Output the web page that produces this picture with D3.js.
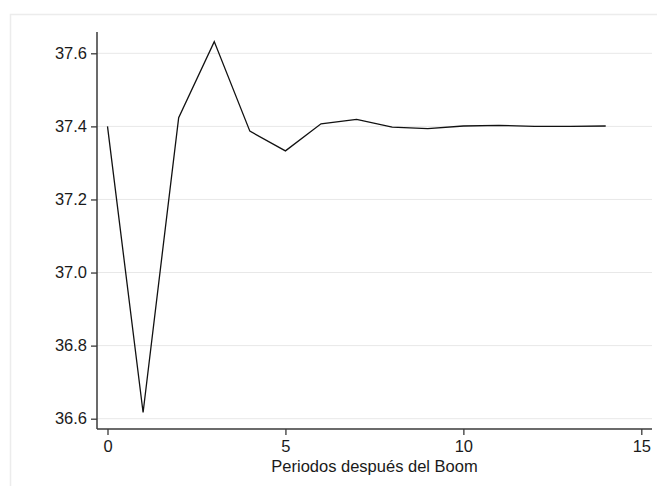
<!DOCTYPE html>
<html>
<head>
<meta charset="utf-8">
<script src="https://cdn.jsdelivr.net/npm/d3@7"></script>
<style>
  body { margin: 0; background: #fff; }
  svg { display: block; font-family: "Liberation Sans", Arial, sans-serif; }
</style>
</head>
<body>
<div id="chart"></div>
<script>
// data
const PERIODS = [0, 1, 2, 3, 4, 5, 6, 7, 8, 9, 10, 11, 12, 13, 14];
const VALUES = [37.400, 36.617, 37.424, 37.632, 37.387, 37.333, 37.407, 37.419,
                37.398, 37.394, 37.401, 37.403, 37.400, 37.400, 37.401];
const Y_TICKS = [36.6, 36.8, 37.0, 37.2, 37.4, 37.6];
const X_TICKS = [0, 5, 10, 15];
const X_TITLE = "Periodos después del Boom";

// frame
const FRAME_WIDTH = 657;
const FRAME_HEIGHT = 486;

const SVG = d3.select("#chart")
              .append("svg")
                .attr("width", FRAME_WIDTH)
                .attr("height", FRAME_HEIGHT);

// outer light border (runs off the right and bottom edges)
SVG.append("rect")
     .attr("x", 10.5)
     .attr("y", 14.5)
     .attr("width", 700)
     .attr("height", 600)
     .attr("fill", "none")
     .attr("stroke", "#ececec")
     .attr("stroke-width", 1.5);

// plot region
const PLOT = {left: 97, right: 652, top: 32, bottom: 429};

// scales
const X_SCALE = d3.scaleLinear()
                  .domain([0, 15])
                  .range([107.5, 641.3]);

const Y_SCALE = d3.scaleLinear()
                  .domain([36.6, 37.6])
                  .range([418.7, 53.3]);

// gridlines
SVG.append("g")
     .selectAll("line")
     .data(Y_TICKS)
     .enter()
     .append("line")
       .attr("x1", PLOT.left)
       .attr("x2", PLOT.right)
       .attr("y1", (d) => {return Y_SCALE(d);})
       .attr("y2", (d) => {return Y_SCALE(d);})
       .attr("stroke", "#e8e8e8")
       .attr("stroke-width", 1);

// the line
const LINE = d3.line()
               .x((d, i) => {return X_SCALE(PERIODS[i]);})
               .y((d) => {return Y_SCALE(d);});

SVG.append("path")
     .datum(VALUES)
     .attr("d", LINE)
     .attr("fill", "none")
     .attr("stroke", "#111")
     .attr("stroke-width", 1.3)
     .attr("stroke-linejoin", "miter");

// y-axis
const Y_AXIS = SVG.append("g")
                  .attr("transform", "translate(" + PLOT.left + ",0)")
                  .call(d3.axisLeft(Y_SCALE)
                          .tickValues(Y_TICKS)
                          .tickFormat(d3.format(".1f"))
                          .tickSize(6)
                          .tickPadding(4)
                          .tickSizeOuter(0));
Y_AXIS.select(".domain")
        .attr("d", "M0," + PLOT.top + "V" + PLOT.bottom);

// x-axis
const X_AXIS = SVG.append("g")
                  .attr("transform", "translate(0," + PLOT.bottom + ")")
                  .call(d3.axisBottom(X_SCALE)
                          .tickValues(X_TICKS)
                          .tickSize(6)
                          .tickPadding(5)
                          .tickSizeOuter(0));
X_AXIS.select(".domain")
        .attr("d", "M" + PLOT.left + ",0H" + PLOT.right);

// axis styling
SVG.selectAll(".domain")
     .attr("stroke", "#3a3a3a")
     .attr("stroke-width", 1.5);
SVG.selectAll(".tick line")
     .attr("stroke", "#3a3a3a")
     .attr("stroke-width", 1.3);
SVG.selectAll(".tick text")
     .attr("font-size", "16.5px")
     .attr("fill", "#1a1a1a")
     .attr("font-family", "Liberation Sans, Arial, sans-serif");

// x-axis title
SVG.append("text")
     .attr("x", (PLOT.left + PLOT.right) / 2)
     .attr("y", 472)
     .attr("text-anchor", "middle")
     .attr("font-size", "16.5px")
     .attr("fill", "#1a1a1a")
     .text(X_TITLE);
</script>
</body>
</html>
